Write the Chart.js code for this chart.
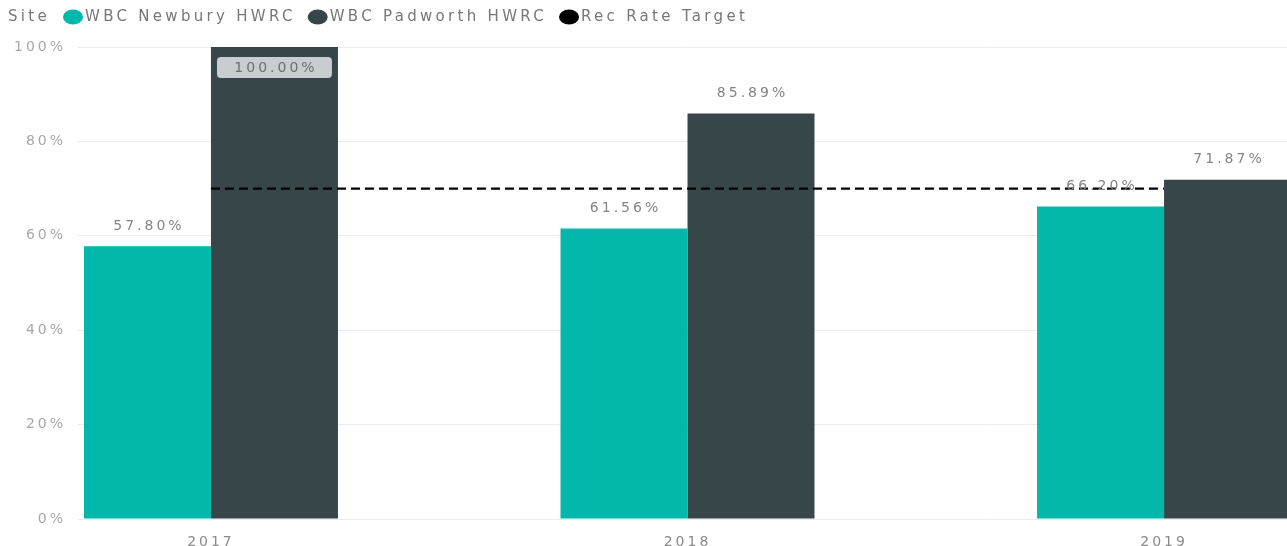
<!DOCTYPE html>
<html>
<head>
<meta charset="utf-8">
<script src="https://cdn.jsdelivr.net/npm/chart.js@4.4.1/dist/chart.umd.min.js"></script>
<style>
  html, body { margin: 0; padding: 0; background: #fff; overflow: hidden; }
  #wrap { position: relative; width: 1287px; height: 546px; }
</style>
</head>
<body>
<div id="wrap"><canvas id="c"></canvas></div>
<script>
const legendTitle = 'Site';
const years = [2017, 2018, 2019];
const seriesNames = ['WBC Newbury HWRC', 'WBC Padworth HWRC', 'Rec Rate Target'];
const newbury = [57.80, 61.56, 66.20];
const padworth = [100.00, 85.89, 71.87];
const recTarget = [70, 70, 70];
const yTickValues = [0, 20, 40, 60, 80, 100];

const SPACING = '3px';
const FONT = "14px 'DejaVu Sans', sans-serif";
const LEGEND_FONT = "15px 'DejaVu Sans', sans-serif";
const LEGEND_SPACING = '3.3px';
Chart.defaults.font.family = "'DejaVu Sans', sans-serif";
Chart.defaults.font.size = 14;
Chart.defaults.color = '#9a9a9a';

const spacingPlugin = {
  id: 'spacing',
  beforeUpdate(chart) { chart.ctx.letterSpacing = SPACING; },
  beforeDraw(chart) { chart.ctx.letterSpacing = SPACING; }
};

const labelPlugin = {
  id: 'barLabels',
  afterDatasetsDraw(chart) {
    const ctx = chart.ctx;
    const area = chart.chartArea;
    ctx.save();
    ctx.letterSpacing = SPACING;
    ctx.font = FONT;
    ctx.textAlign = 'center';
    ctx.textBaseline = 'middle';
    [0, 1].forEach(di => {
      const meta = chart.getDatasetMeta(di);
      const ds = chart.data.datasets[di];
      meta.data.forEach((el, i) => {
        const v = ds.data[i].y;
        const txt = v.toFixed(2) + '%';
        const top = el.y;
        if (top - 30 < area.top) {
          const w = el.width - 12;
          const bx = el.x - w / 2, by = top + 10, bh = 21;
          ctx.fillStyle = '#c8cdcf';
          ctx.beginPath();
          ctx.roundRect(bx, by, w, bh, 4);
          ctx.fill();
          ctx.fillStyle = '#6a6f71';
          ctx.fillText(txt, el.x + 1.5, by + bh / 2 + 0.5);
        } else {
          ctx.fillStyle = '#858585';
          ctx.fillText(txt, el.x + 1.5, top - 20);
        }
      });
    });
    ctx.restore();
  }
};

const legendPlugin = {
  id: 'topLegend',
  afterDraw(chart) {
    const ctx = chart.ctx;
    ctx.save();
    ctx.letterSpacing = LEGEND_SPACING;
    ctx.font = LEGEND_FONT;
    ctx.textAlign = 'left';
    ctx.textBaseline = 'middle';
    const y = 17;
    ctx.fillStyle = '#777777';
    ctx.fillText(legendTitle, 8, y);
    let x = 63;
    const colors = ['#01B8AA', '#374649', '#000000'];
    seriesNames.forEach((name, i) => {
      ctx.fillStyle = colors[i];
      ctx.beginPath();
      ctx.ellipse(x + 10, y, 10, 7.5, 0, 0, Math.PI * 2);
      ctx.fill();
      ctx.fillStyle = '#777777';
      ctx.fillText(name, x + 22, y);
      x = x + 22 + ctx.measureText(name).width + 12;
    });
    ctx.restore();
  }
};

const ctx = document.getElementById('c');
new Chart(ctx, {
  type: 'bar',
  data: {
    datasets: [
      {
        label: seriesNames[0],
        data: years.map((yr, i) => ({ x: yr, y: newbury[i] })),
        backgroundColor: '#01B8AA',
        borderWidth: 0,
        order: 1
      },
      {
        label: seriesNames[1],
        data: years.map((yr, i) => ({ x: yr, y: padworth[i] })),
        backgroundColor: '#374649',
        borderWidth: 0,
        order: 1
      },
      {
        type: 'line',
        label: seriesNames[2],
        data: years.map((yr, i) => ({ x: yr, y: recTarget[i] })),
        borderColor: '#000000',
        borderWidth: 2.2,
        borderDash: [9, 5],
        pointRadius: 0,
        fill: false,
        order: -1
      }
    ]
  },
  options: {
    responsive: true,
    maintainAspectRatio: false,
    animation: false,
    categoryPercentage: 0.533,
    barPercentage: 1,
    layout: { padding: { top: 47, right: 0, bottom: 0, left: 0 } },
    plugins: {
      legend: { display: false },
      tooltip: { enabled: false }
    },
    scales: {
      x: {
        type: 'linear',
        offset: false,
        min: 2016.721,
        max: 2019.258,
        grid: { display: false },
        border: { display: false },
        afterBuildTicks(scale) {
          scale.ticks = years.map(v => ({ value: v }));
        },
        afterFit(scale) { scale.height = 27; },
        ticks: {
          padding: 7,
          color: '#8a8a8a',
          callback: v => String(v),
          maxRotation: 0,
          autoSkip: false
        }
      },
      y: {
        min: 0,
        max: 100,
        afterBuildTicks(scale) {
          scale.ticks = yTickValues.map(v => ({ value: v }));
        },
        afterFit(scale) { scale.width = 78; },
        grid: { color: '#ececec', lineWidth: 1, drawTicks: false },
        border: { display: false },
        ticks: {
          padding: 12,
          color: '#a8a8a8',
          callback: v => v + '%'
        }
      }
    }
  },
  plugins: [spacingPlugin, labelPlugin, legendPlugin]
});
</script>
</body>
</html>
